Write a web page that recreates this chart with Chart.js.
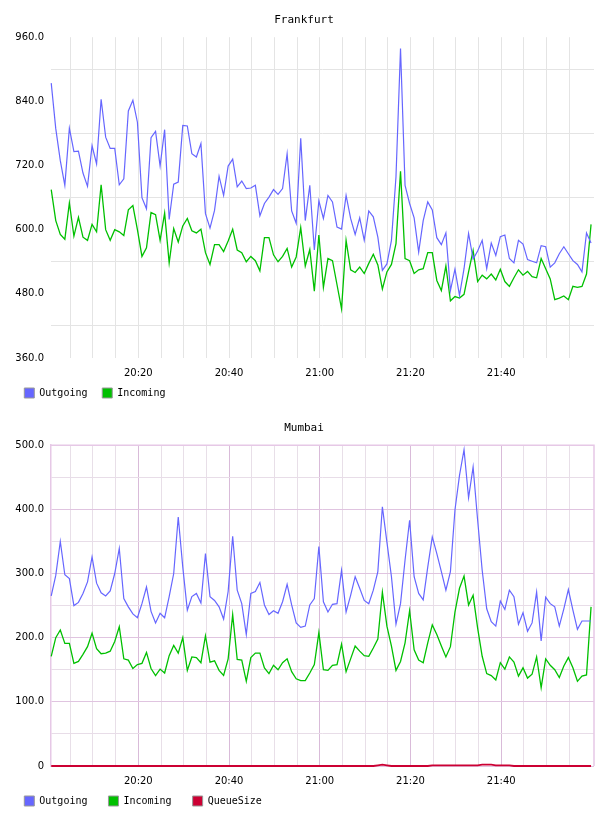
<!DOCTYPE html>
<html><head><meta charset="utf-8">
<script src="https://cdn.jsdelivr.net/npm/chart.js@4.4.1/dist/chart.umd.min.js"></script>
<style>
html,body{margin:0;padding:0;background:#fff;}
.box{position:absolute;left:0;width:608px;height:408px;}
canvas{display:block;}
</style></head><body>
<div class="box" style="top:0"><canvas id="c1" width="608" height="408"></canvas></div>
<div class="box" style="top:408px"><canvas id="c2" width="608" height="408"></canvas></div>
<script>
// ---- data (one sample per minute, first sample at 20:00:48) ----
const firstSampleMinute = 0.8;   // minutes after 20:00
const axisStartMinute = 0.75;
const axisEndMinute = 120.45;

const frankfurtOutgoing = [
 874,789,729,683,790,746,747,706,681,757,
 723,844,773,752,752,684,695,822,842,801,
 660,639,772,784,719,787,619,685,689,795,
 794,742,736,761,630,603,636,700,664,719,
 732,680,691,677,678,683,626,649,661,675,
 666,677,742,635,612,771,617,683,562,654,
 621,664,652,605,601,664,621,591,622,580,
 635,624,586,524,536,580,699,939,683,649,
 622,558,617,652,637,585,572,594,486,526,
 477,527,593,545,560,580,527,575,552,587,
 590,546,538,580,573,544,541,538,570,568,
 530,538,555,568,555,542,535,521,594,575];
const frankfurtIncoming = [
 675,617,591,582,650,588,623,586,580,610,
 596,684,600,580,600,596,589,637,645,600,
 550,566,632,628,580,631,538,602,577,607,
 621,598,594,601,557,535,572,572,559,579,
 601,562,557,540,550,542,523,585,585,553,
 540,550,565,530,549,604,532,563,485,590,
 492,546,542,497,452,580,525,520,530,518,
 537,554,534,489,521,535,574,709,546,542,
 518,525,527,557,557,505,486,532,467,475,
 472,479,521,561,503,515,508,517,506,526,
 503,494,510,525,515,522,512,510,546,527,
 508,469,472,476,469,494,492,494,517,610];

const mumbaiOutgoing = [
 265,297,350,298,292,250,255,269,287,326,
 285,270,265,273,300,339,261,248,237,231,
 253,279,241,223,238,231,264,300,388,310,
 243,264,269,254,331,264,258,248,229,272,
 358,274,253,205,269,272,286,251,236,242,
 238,256,283,251,223,216,218,251,261,342,
 256,240,252,253,305,240,266,295,277,258,
 253,274,303,404,349,295,221,253,321,383,
 295,269,259,310,357,331,303,274,303,399,
 453,493,418,466,383,305,245,225,218,257,
 244,274,264,221,239,210,223,271,195,263,
 253,248,218,245,275,243,213,226,226,226];
const mumbaiIncoming = [
 171,200,212,191,191,160,163,174,186,207,
 183,175,176,179,194,217,167,165,152,158,
 160,177,152,141,151,145,172,188,176,200,
 149,170,169,161,203,162,164,149,141,167,
 236,166,165,132,169,176,176,153,144,157,
 150,161,167,147,136,133,133,145,158,208,
 150,149,157,158,190,147,167,187,179,172,
 171,184,198,271,218,187,149,163,192,242,
 181,165,161,192,220,205,187,170,186,240,
 277,296,251,266,215,171,144,141,134,161,
 151,170,162,140,153,137,143,170,122,167,
 157,150,138,156,169,153,132,140,142,248];
const mumbaiQueueSize = [
 0,0,0,0,0,0,0,0,0,0, 0,0,0,0,0,0,0,0,0,0,
 0,0,0,0,0,0,0,0,0,0, 0,0,0,0,0,0,0,0,0,0,
 0,0,0,0,0,0,0,0,0,0, 0,0,0,0,0,0,0,0,0,0,
 0,0,0,0,0,0,0,0,0,0, 0,0,1,2,1,0,0,0,0,0,
 0,0,0,0,1,1,1,1,1,1, 1,1,1,1,1,2,2,2,1,1,
 1,1,0,0,0,0,0,0,0,0, 0,0,0,0,0,0,0,0,0,0];

const seriesNames = ['Outgoing','Incoming','QueueSize'];
const seriesColors = ['#6666ff','#00c000','#cc0033'];
const seriesWidths = [1.2, 1.3, 1.8];

// ---- helpers ----
function toPoints(arr){ return arr.map((v,i)=>({x:firstSampleMinute+i, y:v})); }
function fmtTime(m){ const h=20+Math.floor(m/60), mm=m%60; return h+':'+String(mm).padStart(2,'0'); }

const plotFrame = {
  id:'plotFrame',
  beforeDatasetsDraw(chart, args, opts){
    if(!opts.color) return;
    const a=chart.chartArea, c=chart.ctx;
    c.save(); c.strokeStyle=opts.color; c.lineWidth=opts.width||1;
    c.beginPath();
    c.moveTo(a.left, a.top); c.lineTo(a.right, a.top); c.lineTo(a.right, a.bottom);
    c.stroke(); c.restore();
  }
};

function makeChart(id, cfg){
  const L = 24.3 - cfg.legendPad;
  return new Chart(document.getElementById(id), {
    type:'line',
    data:{ datasets: cfg.series.map((s,i)=>({
      label: seriesNames[i], data: toPoints(s),
      borderColor: seriesColors[i], backgroundColor: seriesColors[i],
      borderWidth: seriesWidths[i], pointRadius: 0, tension: 0, fill: false,
      clip: 3
    }))},
    plugins:[plotFrame],
    options:{
      responsive:false, animation:false, devicePixelRatio:1,
      layout:{ padding:{ left:L, right:L, top:0, bottom:0 } },
      plugins:{
        title:{ display:true, text:cfg.title, color:'#000',
          font:{ family:'DejaVu Sans Mono', size:11, weight:'normal', lineHeight:1.2 },
          padding:{ top:14, bottom:10 } },
        legend:{ display:true, position:'bottom', align:'start',
          labels:{ boxWidth:10, boxHeight:10, padding:cfg.legendPad, color:'#000',
            font:{ family:'DejaVu Sans Mono', size:10 },
            generateLabels(chart){
              return chart.data.datasets.map((d,i)=>({ text:d.label, fillStyle:d.backgroundColor,
                strokeStyle:'#999999', lineWidth:1, hidden:false, datasetIndex:i }));
            } } },
        tooltip:{ enabled:false },
        plotFrame:{ color: cfg.frameColor, width: 1.5 }
      },
      scales:{
        x:{ type:'linear', min:axisStartMinute, max:axisEndMinute,
          afterBuildTicks(ax){ ax.ticks = ax.ticks.filter(t=>t.value>0 && t.value<120 && t.value%5===0); },
          afterFit(ax){ ax.height = 30 - cfg.legendPad; },
          ticks:{ stepSize:5, includeBounds:false, autoSkip:false, maxRotation:0,
            mirror:true, padding:-21, color:'#000',
            font:{ family:'DejaVu Sans', size:10 },
            callback:(v)=> (v%20===0 ? fmtTime(v) : '') },
          grid:{ drawTicks:false, color:(c)=> cfg.xGrid(c.tick ? c.tick.value : 0) },
          border:{ display:false }
        },
        y:{ type:'linear', position:'left', min:cfg.yMin, max:cfg.yMax,
          afterFit(ax){ ax.width = 51 - L; },
          ticks:{ stepSize:cfg.yStep, padding:7, color:'#000',
            font:{ family:'DejaVu Sans', size:10 },
            callback:(v)=> cfg.yLabel(v) },
          grid:{ drawTicks:false, color:(c)=> cfg.yGrid(c.tick ? c.tick.value : 0) },
          border: cfg.frameColor ? { display:true, color:cfg.frameColor, width:1.5 } : { display:false }
        },
        y2:{ type:'linear', position:'right', display:true,
          afterFit(ax){ ax.width = 14 - L; },
          ticks:{ display:false }, grid:{ display:false, drawTicks:false }, border:{ display:false } }
      }
    }
  });
}

makeChart('c1', {
  title:'Frankfurt', series:[frankfurtOutgoing, frankfurtIncoming], legendPad:14.8,
  yMin:360, yMax:960, yStep:60,
  yLabel:(v)=> (v%120===0 ? v.toFixed(1) : ''),
  yGrid:(v)=> (v%120===60 ? '#e4e4e4' : 'rgba(0,0,0,0)'),
  xGrid:()=> '#e4e4e4',
  frameColor:null
});

makeChart('c2', {
  title:'Mumbai', series:[mumbaiOutgoing, mumbaiIncoming, mumbaiQueueSize], legendPad:21,
  yMin:0, yMax:500, yStep:50,
  yLabel:(v)=> (v===0 ? '0' : (v%100===0 ? v.toFixed(1) : '')),
  yGrid:(v)=> (v===500 ? 'rgba(0,0,0,0)' : (v%100===0 ? '#e0c4e0' : '#e8dde8')),
  xGrid:(v)=> (v%20===0 ? '#d9bbd9' : '#e8dfe8'),
  frameColor:'#e6c8e6'
});
</script>
</body></html>
